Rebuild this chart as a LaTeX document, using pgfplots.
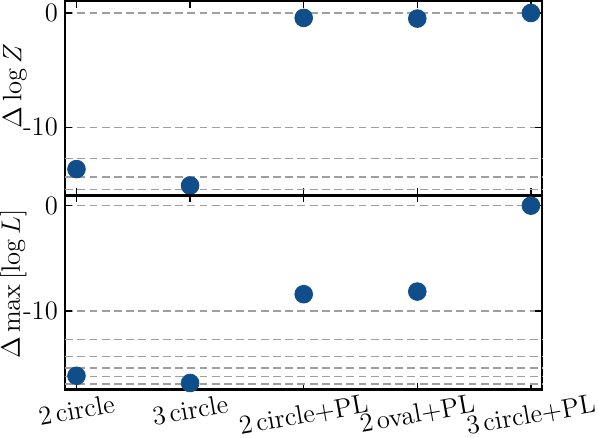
\documentclass[border=0pt]{standalone}
\usepackage{fix-cm}
\usepackage{pgfplots}
\pgfplotsset{compat=1.18}
\definecolor{dotblue}{RGB}{16,78,139}
\pgfplotsset{
  panel/.style={
    scale only axis, width=242pt, height=98.5pt,
    xmin=-0.1, xmax=4.1,
    xtick={0,1,2,3,4},
    tick align=inside, xtick pos=both, ytick pos=both,
    major tick length=3.5pt,
    every tick/.style={black, line width=0.8pt},
    axis line style={line width=1.2pt},
    ytick={-10,0}, yticklabels={-10,0},
    ymajorgrids,
    grid style={gray!75, dash pattern=on 4pt off 2.2pt, line width=0.7pt},
    extra y ticks={-12.7,-14.33,-15.43,-16.25,-16.94},
    extra y tick labels={},
    extra y tick style={major tick length=0pt, grid=major},
    tick label style={font=\fontsize{13.5}{16}\selectfont},
    yticklabel style={inner sep=1pt, xshift=-2.5pt},
    label style={font=\fontsize{13.5}{16}\selectfont},
    ylabel style={inner sep=0pt},
    ylabel shift=-3pt,
    clip=false,
  },
  dots/.style={only marks, mark=*, mark size=4.5pt, color=dotblue, mark options={draw=none, fill=dotblue}},
}
\begin{document}
\begin{tikzpicture}
\begin{axis}[panel, name=top,
  ymin=-15.95, ymax=1.03,
  xticklabels={},
  ylabel style={at={(ticklabel cs:0.563)}},
  ylabel={$\Delta\log Z$}]
\addplot[dots] coordinates {(0,-13.65)(1,-15.09)(2,-0.43)(3,-0.49)(4,0)};
\end{axis}
\begin{axis}[panel, at={(top.south west)}, anchor=north west,
  ymin=-17.47, ymax=0.97,
  xticklabels={\rotatebox{10}{2\kern2pt circle},\rotatebox{10}{3\kern2pt circle},\rotatebox{10}{2\kern2pt circle+PL},\rotatebox{10}{2\kern2pt oval+PL},\rotatebox{10}{3\kern2pt circle+PL}},
  xticklabel style={anchor=north, inner sep=0.5pt, yshift=-1.5pt},
  ylabel style={at={(ticklabel cs:0.543)}},
  ylabel={$\Delta\max\,[\log L]$}]
\addplot[dots] coordinates {(0,-16.16)(1,-16.84)(2,-8.41)(3,-8.16)(4,0)};
\end{axis}
\end{tikzpicture}
\end{document}
